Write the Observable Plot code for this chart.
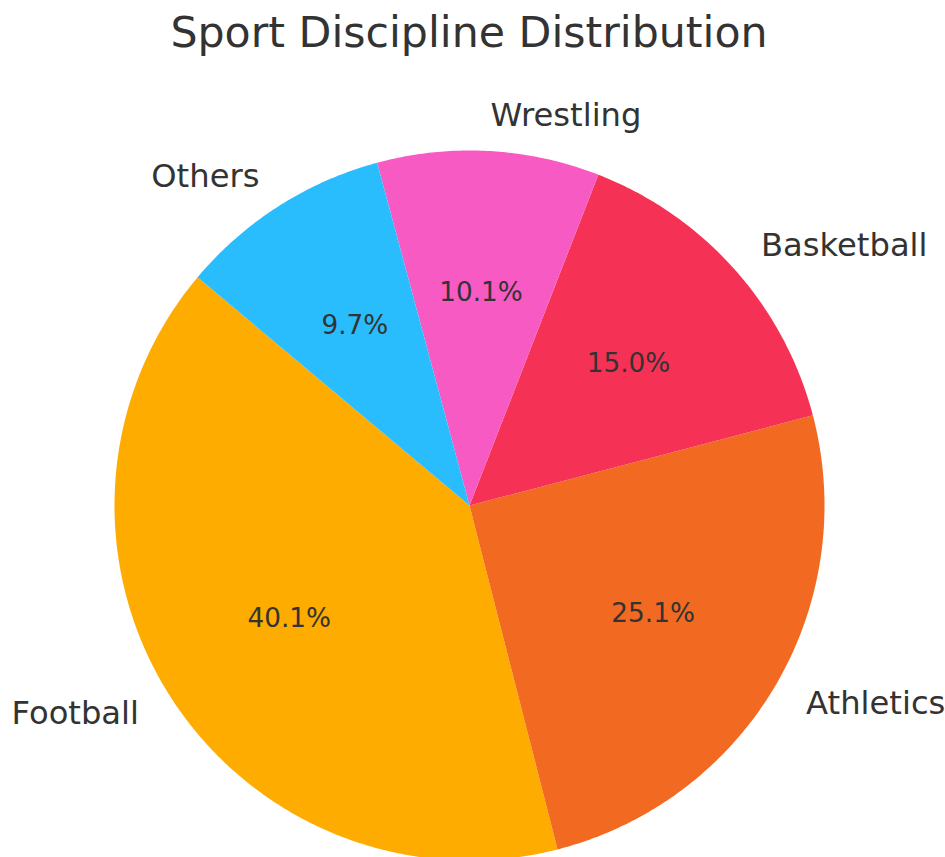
<!DOCTYPE html>
<html>
<head>
<meta charset="utf-8">
<script src="https://cdn.jsdelivr.net/npm/d3@7"></script>
<script src="https://cdn.jsdelivr.net/npm/@observablehq/plot@0.6"></script>
<style>
  html, body { margin: 0; padding: 0; background: #fff; }
  #title { height: 65px; width: 938px; text-align: center; font-family: "DejaVu Sans", sans-serif; font-size: 42.7px; color: #333; line-height: 64px; }
</style>
</head>
<body>
<div id="title">Sport Discipline Distribution</div>
<div id="chart"></div>
<script>
const categories = ["Football", "Athletics", "Basketball", "Wrestling", "Others"];
const shares = [40.1, 25.1, 15.0, 10.1, 9.7];
const colors = ["#FFAC00", "#F26A21", "#F53255", "#F85AC3", "#29BDFD"];
const startAngle = 140; // degrees, counterclockwise as in the source

const total = d3.sum(shares);
const slices = [];
let a0 = startAngle;
categories.forEach((name, i) => {
  const sweep = shares[i] / total * 360;
  slices.push({name, share: shares[i], a0, a1: a0 + sweep, mid: a0 + sweep / 2});
  a0 += sweep;
});
const rad = d => d * Math.PI / 180;

// polygon outline of each slice (center + arc)
const outline = [];
for (const s of slices) {
  outline.push({name: s.name, x: 0, y: 0});
  const n = Math.max(2, Math.ceil((s.a1 - s.a0) / 0.5));
  for (let k = 0; k <= n; k++) {
    const a = rad(s.a0 + (s.a1 - s.a0) * k / n);
    outline.push({name: s.name, x: Math.cos(a), y: Math.sin(a)});
  }
  outline.push({name: s.name, x: 0, y: 0});
}

const labels = slices.map(s => ({name: s.name, x: 1.1 * Math.cos(rad(s.mid)), y: 1.1 * Math.sin(rad(s.mid))}));
const pcts = slices.map(s => ({text: s.share.toFixed(1) + "%", x: 0.6 * Math.cos(rad(s.mid)), y: 0.6 * Math.sin(rad(s.mid))}));

const W = 945, H = 792, R = 355, cx = 469, cy = 440;

const chart = Plot.plot({
  width: W,
  height: H,
  margin: 0,
  x: {domain: [-cx / R, (W - cx) / R], axis: null},
  y: {domain: [-(H - cy) / R, cy / R], axis: null},
  color: {domain: categories, range: colors},
  style: {fontFamily: "DejaVu Sans, sans-serif", background: "#fff"},
  marks: [
    Plot.line(outline, {x: "x", y: "y", z: "name", fill: "name", stroke: "none"}),
    Plot.text(labels.filter(d => d.x >= 0), {x: "x", y: "y", text: "name", textAnchor: "start", fontSize: 32.2, fill: "#333"}),
    Plot.text(labels.filter(d => d.x < 0), {x: "x", y: "y", text: "name", textAnchor: "end", fontSize: 32.2, fill: "#333"}),
    Plot.text(pcts, {x: "x", y: "y", text: "text", fontSize: 26.3, fill: "#333"})
  ]
});
document.getElementById("chart").appendChild(chart);
</script>
</body>
</html>
